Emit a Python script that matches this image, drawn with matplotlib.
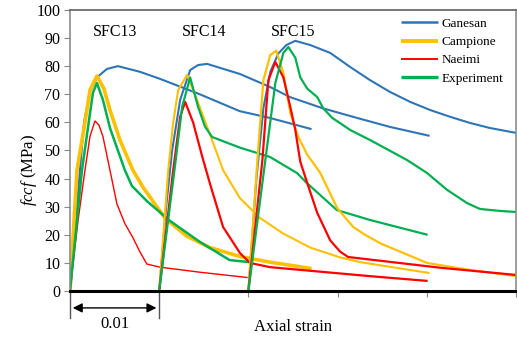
import numpy as np
import matplotlib.pyplot as plt

plt.rcParams['font.family'] = 'Liberation Serif'
plt.rcParams['mathtext.fontset'] = 'custom'
plt.rcParams['mathtext.rm'] = 'Liberation Serif'
plt.rcParams['mathtext.it'] = 'Liberation Serif:italic'

# specimen names and where each curve starts on the strain axis
specimens = ['SFC13', 'SFC14', 'SFC15']
offsets = [0.0, 0.01, 0.02]

# local strain in units of 1e-3, stress in MPa
# SFC13
s13_gan_e = [0, 0.9, 1.57, 2.24, 3.02, 4.14, 5.37, 7.83, 10.07, 14.55, 19.02, 22.38, 27.08]
s13_gan_f = [0, 35, 60, 71, 76, 79, 80, 78, 75.5, 70, 64, 61.6, 57.6]
s13_cam_e = [0, 0.78, 1.68, 2.24, 3.02, 3.80, 4.48, 5.60, 7.05, 8.17, 10.63, 13.09, 15.67, 19.02, 22.38, 27.08]
s13_cam_f = [0, 43, 60, 71.5, 76.5, 72, 64.4, 53.7, 43, 37, 26, 19.5, 15.5, 12.3, 10.3, 8.0]
s13_nae_e = [0, 0.90, 1.68, 2.24, 2.80, 3.25, 3.69, 4.48, 5.26, 6.15, 7.05, 7.83, 8.62, 10.07, 14.55, 19.92]
s13_nae_f = [0, 25, 43, 55, 60.5, 59, 55, 43, 31, 24, 19, 14, 9.6, 8.5, 6.7, 4.8]
s13_exp_e = [0, 1.34, 2.01, 2.57, 3.02, 3.69, 4.48, 5.37, 6.15, 6.94, 8.62, 11.19, 14.55, 17.90, 20.14]
s13_exp_f = [0, 43, 58, 70.5, 74, 68, 58, 50, 43, 37.4, 32, 25, 17.5, 11, 10.3]

# SFC14
s14_gan_e = [0, 0.78, 1.45, 2.35, 3.47, 4.36, 5.37, 9.06, 12.42, 14.66, 18.35, 22.16, 25.85, 30.32]
s14_gan_f = [0, 30, 50, 68, 78.6, 80.4, 80.8, 77.2, 72.6, 69, 65, 61.6, 58.4, 55.2]
s14_cam_e = [0, 1.01, 1.57, 2.13, 3.13, 4.36, 5.93, 7.16, 9.06, 11.30, 13.88, 16.90, 20.25, 22.49, 30.32]
s14_cam_f = [0, 43, 60, 71.5, 76.9, 67, 53.7, 43, 33, 26, 20.5, 15.5, 12, 10.3, 6.4]
s14_nae_e = [0, 1.57, 2.35, 2.91, 3.80, 4.81, 5.71, 7.16, 9.06, 10.18, 12.42, 23.61, 30.10]
s14_nae_f = [0, 43, 62, 67.3, 60, 48, 38, 22.8, 13.5, 10, 8.5, 5.3, 3.6]
s14_exp_e = [0, 1.79, 2.57, 3.47, 4.36, 5.15, 5.93, 9.06, 12.42, 15.44, 16.56, 19.92, 23.61, 30.10]
s14_exp_f = [0, 45, 65.5, 76, 65.5, 58.4, 54.8, 51, 47.7, 42, 38.4, 28.8, 25.3, 20]

# SFC15
s15_gan_e = [0, 0.90, 1.68, 2.46, 3.36, 4.25, 5.26, 6.94, 9.18, 11.41, 13.65, 15.89, 18.13, 20.37, 22.60, 24.84, 27.08, 30.10]
s15_gan_f = [0, 40, 65, 78, 84.5, 87.5, 89, 87.5, 84.7, 79.7, 75, 70.8, 67.3, 64.4, 62, 59.8, 58, 56.2]
s15_cam_e = [0, 1.01, 1.68, 2.46, 3.13, 3.92, 4.70, 5.60, 6.60, 8.06, 9.96, 11.75, 13.09, 14.77, 20.03, 24.84, 30.10]
s15_cam_f = [0, 46.6, 75, 84, 85.5, 77.6, 63.3, 54.8, 48.5, 42, 29.5, 22.8, 20, 17, 10, 7.5, 5.3]
s15_nae_e = [0, 1.57, 2.24, 3.02, 3.92, 4.70, 5.26, 5.82, 6.60, 7.72, 9.18, 10.29, 11.19, 13.65, 21.48, 30.10]
s15_nae_f = [0, 46.6, 75, 81.5, 76, 65.5, 57.3, 46, 38.4, 27.8, 18, 14, 12.1, 11.2, 8.3, 5.7]
s15_exp_e = [0, 1.90, 3.02, 3.92, 4.48, 5.26, 5.82, 6.60, 7.72, 8.39, 9.40, 11.41, 13.65, 17.79, 20.03, 22.27, 24.51, 25.96, 28.20, 30.10]
s15_exp_f = [0, 46.6, 74, 84.7, 86.8, 83, 76, 72, 69, 65, 61.6, 57.3, 53.7, 46.6, 42, 36, 31.3, 29.2, 28.5, 28.1]

models = ['Ganesan', 'Campione', 'Naeimi', 'Experiment']
colors = ['#2E75B6', '#FFC000', '#FF0000', '#00B050']

curves = [
    [(s13_gan_e, s13_gan_f), (s13_cam_e, s13_cam_f), (s13_nae_e, s13_nae_f), (s13_exp_e, s13_exp_f)],
    [(s14_gan_e, s14_gan_f), (s14_cam_e, s14_cam_f), (s14_nae_e, s14_nae_f), (s14_exp_e, s14_exp_f)],
    [(s15_gan_e, s15_gan_f), (s15_cam_e, s15_cam_f), (s15_nae_e, s15_nae_f), (s15_exp_e, s15_exp_f)],
]
# SFC13 campione drawn thick and naeimi thin, as in the figure
widths = [[1.5, 2.6, 1.0, 1.8], [1.5, 1.5, 1.6, 1.6], [1.5, 1.6, 1.6, 1.6]]

fig = plt.figure(figsize=(5.17, 3.42), dpi=100)
ax = fig.add_axes([0.1354, 0.149, 0.8626, 0.822])

for i, off in enumerate(offsets):
    for j, (e, f) in enumerate(curves[i]):
        ax.plot(off + np.array(e) * 1e-3, f, color=colors[j], lw=widths[i][j],
                solid_capstyle='butt', solid_joinstyle='round',
                label=models[j] if i == 0 else None)

ax.set_xlim(0, 0.05)
ax.set_ylim(0, 100)
ax.set_yticks(np.arange(0, 101, 10))
ax.set_xticks(np.arange(0, 0.051, 0.01))
ax.set_xticklabels([])
ax.tick_params(axis='y', labelsize=11.5, length=4, color='#888888', pad=3)
ax.tick_params(axis='x', length=4, color='#888888')

for side in ['left', 'top', 'right']:
    ax.spines[side].set_color('#8c8c8c')
    ax.spines[side].set_linewidth(1.2)
ax.spines['top'].set_color('#606060')
ax.spines['bottom'].set_color('black')
ax.spines['bottom'].set_linewidth(2.2)
ax.spines['bottom'].set_zorder(5)

# specimen labels
for name, off in zip(specimens, offsets):
    ax.text(off + 0.005, 92, name, fontsize=11.5, ha='center', va='center')

# 0.01 dimension arrow under the axis
for xv in [0.0, 0.01]:
    ax.plot([xv, xv], [0, -9.6], color='#555555', lw=1.0, clip_on=False)
ax.annotate('', xy=(0.0, -6.0), xytext=(0.01, -6.0), annotation_clip=False,
            arrowprops=dict(arrowstyle='<|-|>', color='black', lw=1.0, mutation_scale=14))
ax.text(0.005, -11.6, '0.01', fontsize=12, ha='center', va='center', clip_on=False)

ax.set_xlabel('Axial strain', fontsize=12)
ax.xaxis.set_label_coords(0.5, -0.1)
ax.set_ylabel(r'$fccf$ (MPa)', fontsize=12)
ax.yaxis.set_label_coords(-0.07, 0.43)

leg = ax.legend(loc='upper right', bbox_to_anchor=(0.972, 0.972), frameon=False,
                fontsize=9.5, handlelength=2.8, handletextpad=0.3, labelspacing=0.45,
                borderaxespad=0, borderpad=0)
for h, lw in zip(leg.get_lines(), [1.8, 2.8, 1.4, 2.4]):
    h.set_linewidth(lw)

fig.savefig('out.png', dpi=100)
